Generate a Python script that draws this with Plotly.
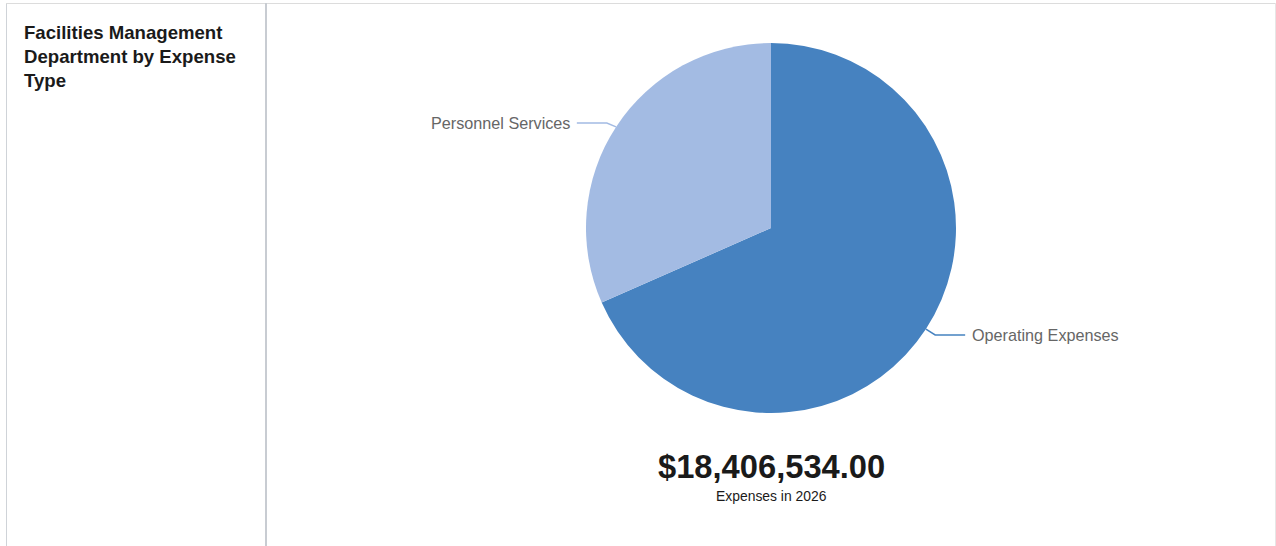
import math
import plotly.graph_objects as go

# ---- data ----
labels = ["Operating Expenses", "Personnel Services"]
values = [12590000, 5816534]
colors = ["#4682c0", "#a3bbe3"]
title_text = "Facilities Management<br>Department by Expense<br>Type"
subtitle_text = "Expenses in 2026"

W, H = 1276, 546
CX, CY, R = 771, 228, 185  # pie center / radius in pixels


def px(x):
    return x / W


def py(y):
    return 1 - y / H


fig = go.Figure()
fig.add_trace(go.Pie(
    labels=labels, values=values, sort=False, direction="clockwise", rotation=0,
    marker=dict(colors=colors, line=dict(width=0)),
    textinfo="none", showlegend=False,
    domain=dict(x=[px(CX - R), px(CX + R)], y=[py(CY + R), py(CY - R)]),
    hovertemplate="%{label}: $%{value:,.2f}<extra></extra>",
))

shapes = []
annotations = []
total = sum(values)
cum = 0
for lab, val, col in zip(labels, values, colors):
    mid = (cum + val / 2) / total * 2 * math.pi
    cum += val
    sx, sy = math.sin(mid), -math.cos(mid)
    x0, y0 = CX + R * sx, CY + R * sy
    kx, ky = CX + (R + 11) * sx, CY + (R + 9) * sy + 1
    side = 1 if sx >= 0 else -1
    ex = kx + side * 30
    path = f"M {px(x0)} {py(y0)} L {px(kx)} {py(ky)} L {px(ex)} {py(ky)}"
    shapes.append(dict(type="path", path=path, xref="paper", yref="paper",
                       line=dict(color=col, width=1.5)))
    annotations.append(dict(
        x=px(ex + side * 5), y=py(ky), xref="paper", yref="paper",
        text=lab, showarrow=False, xanchor="left" if side > 0 else "right",
        yanchor="middle", font=dict(family="Liberation Sans, Arial", size=16.2, color="#666666")))

# total and subtitle
annotations.append(dict(
    x=px(CX), y=py(466), xref="paper", yref="paper", text=f"<b>${total:,.2f}</b>",
    showarrow=False, xanchor="center", yanchor="middle",
    font=dict(family="Liberation Sans, Arial", size=32.7, color="#1a1a1a")))
annotations.append(dict(
    x=px(CX), y=py(496), xref="paper", yref="paper", text=subtitle_text,
    showarrow=False, xanchor="center", yanchor="middle",
    font=dict(family="Liberation Sans, Arial", size=13.9, color="#1a1a1a")))
# title
annotations.append(dict(
    x=px(22), y=py(20), xref="paper", yref="paper", text=f"<b>{title_text}</b>",
    showarrow=False, xanchor="left", yanchor="top", align="left",
    font=dict(family="Liberation Sans, Arial", size=18.6, color="#1a1a1a")))

# frame lines
border = "#cfd3d8"
shapes += [
    dict(type="line", xref="paper", yref="paper", x0=px(6.5), x1=px(6.5), y0=py(3), y1=0,
         line=dict(color=border, width=1)),
    dict(type="line", xref="paper", yref="paper", x0=px(6), x1=px(1275.5), y0=py(3.5), y1=py(3.5),
         line=dict(color="#dcdcdc", width=1)),
    dict(type="line", xref="paper", yref="paper", x0=px(1275.5), x1=px(1275.5), y0=py(3), y1=0,
         line=dict(color="#e6e6e6", width=1)),
    dict(type="line", xref="paper", yref="paper", x0=px(266), x1=px(266), y0=py(3), y1=0,
         line=dict(color="#c8ccd2", width=2)),
]

fig.update_layout(
    width=W, height=H, margin=dict(l=0, r=0, t=0, b=0),
    paper_bgcolor="white", plot_bgcolor="white",
    shapes=shapes, annotations=annotations,
)
fig.write_html("out.html", config={"displayModeBar": False},
               post_script="document.body.style.margin='0px';document.body.style.overflow='hidden';")
